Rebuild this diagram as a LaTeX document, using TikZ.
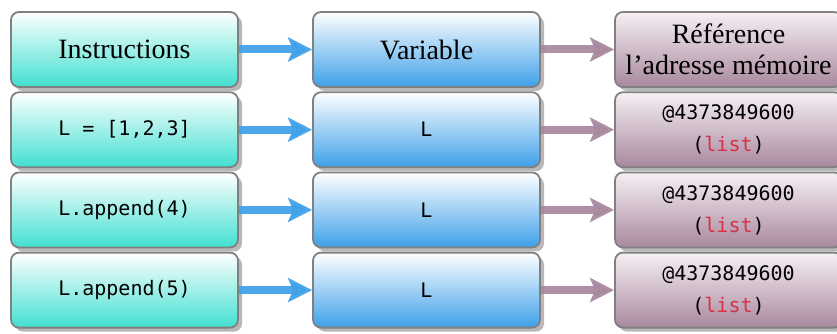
\documentclass[tikz,border=0pt]{standalone}
\usepackage{fontspec}
\setmainfont{Liberation Serif}
\setmonofont{DejaVu Sans Mono}
\usetikzlibrary{arrows.meta,shadows}
\definecolor{turq}{RGB}{64,224,208}
\definecolor{bleu}{RGB}{62,160,232}
\definecolor{mauve}{RGB}{168,136,158}
\definecolor{mauvelight}{RGB}{246,240,244}
\definecolor{rouge}{RGB}{218,48,70}
\definecolor{bord}{RGB}{128,128,128}
\tikzset{
  box/.style={draw=bord, line width=1.8pt, rounded corners=8pt,
    minimum width=227pt, minimum height=75pt, align=center, inner sep=0pt,
    drop shadow={shadow xshift=4pt, shadow yshift=-4pt, fill=black!28, opacity=1}},
  instr/.style={box, top color=white, bottom color=turq},
  var/.style={box, top color=white, bottom color=bleu},
  ref/.style={box, top color=mauvelight, bottom color=mauve},
  serif/.style={font=\fontsize{28}{31}\selectfont},
  mono/.style={font=\fontsize{20}{32}\selectfont\ttfamily},
  barrow/.style={draw=bleu, line width=8pt, opacity=0.92, -{Stealth[length=24pt,width=24pt,inset=5pt]}},
  marrow/.style={draw=mauve, line width=8pt, opacity=0.92, -{Stealth[length=24pt,width=24pt,inset=5pt]}},
}
\begin{document}
\begin{tikzpicture}[x=1pt,y=-1pt]
\useasboundingbox (0,0) rectangle (837,334);
\node[instr,serif] (i0) at (124.5,49.5) {Instructions};
\node[var,serif] (v0) at (426.5,49.5) {Variable};
\node[ref,serif] (r0) at (728.5,49.5) {Référence\\l’adresse mémoire};
\node[instr,mono] (i1) at (124.5,129.7) {L = [1,2,3]};
\node[var,mono] (v1) at (426.5,129.7) {L};
\node[ref,mono] (r1) at (728.5,129.7) {@4373849600\\(\textcolor{rouge}{list})};
\node[instr,mono] (i2) at (124.5,209.9) {L.append(4)};
\node[var,mono] (v2) at (426.5,209.9) {L};
\node[ref,mono] (r2) at (728.5,209.9) {@4373849600\\(\textcolor{rouge}{list})};
\node[instr,mono] (i3) at (124.5,290.1) {L.append(5)};
\node[var,mono] (v3) at (426.5,290.1) {L};
\node[ref,mono] (r3) at (728.5,290.1) {@4373849600\\(\textcolor{rouge}{list})};
\foreach \k in {0,1,2,3}{
  \draw[barrow] (i\k.east) -- (v\k.west);
  \draw[marrow] (v\k.east) -- (r\k.west);
}
\end{tikzpicture}
\end{document}
